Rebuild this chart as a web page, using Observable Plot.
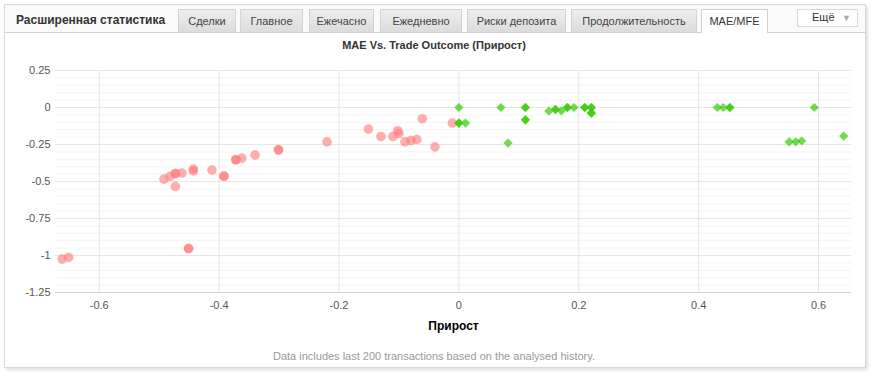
<!DOCTYPE html>
<html>
<head>
<meta charset="utf-8">
<script src="https://cdn.jsdelivr.net/npm/d3@7"></script>
<script src="https://cdn.jsdelivr.net/npm/@observablehq/plot@0.6"></script>
<style>
  body { margin:0; background:#fff; font-family:"Liberation Sans", Arial, sans-serif; }
  #page { position:relative; width:876px; height:376px; overflow:hidden; }
  .box { position:absolute; left:4px; top:4px; width:860px; height:362px; border:1px solid #d9d9d9; background:#fff; box-shadow:2px 2px 3px rgba(0,0,0,0.12); }
  .hdr { position:absolute; left:5px; top:5px; width:860px; height:27px; background:#fafafa; border-bottom:1px solid #d2d2d2; }
  .htitle { position:absolute; left:16px; top:13px; font-weight:bold; font-size:12px; color:#333; }
  .tab { position:absolute; top:9px; height:23px; box-sizing:border-box; border:1px solid #d4d4d4; border-bottom:none; background:linear-gradient(#ededed,#dcdcdc); font-size:11px; color:#444; text-align:center; line-height:22px; }
  .tab.active { background:#fff; border-color:#cfcfcf; height:24px; color:#333; }
  .more { position:absolute; left:797px; top:9px; width:61px; height:18px; box-sizing:border-box; border:1px solid #d8d8d8; background:#fff; font-size:11px; color:#333; line-height:15px; padding-left:14px; }
  .more span { position:absolute; right:6px; top:1px; color:#aaa; font-size:9px; }
  .ctitle { position:absolute; left:0; width:868px; top:39px; text-align:center; font-weight:bold; font-size:11px; color:#333; }
  .foot { position:absolute; left:0; width:868px; top:350px; text-align:center; font-size:11px; color:#999; }
  #chart { position:absolute; left:0; top:60px; }
</style>
</head>
<body>
<div id="page">
  <div class="box"></div>
  <div class="hdr"></div>
  <div class="htitle">Расширенная статистика</div>
  <div id="tabs"></div>
  <div class="more">Ещё<span>▼</span></div>
  <div class="ctitle">MAE Vs. Trade Outcome (Прирост)</div>
  <div id="chart"></div>
  <div class="foot">Data includes last 200 transactions based on the analysed history.</div>
</div>
<script>
// Tabs
const tabLabels = ["Сделки","Главное","Ежечасно","Ежедневно","Риски депозита","Продолжительность","MAE/MFE"];
const tabLefts  = [178, 240, 309, 380, 467, 571, 701];
const tabRights = [236, 303, 374, 462, 566, 697, 768];
const activeTab = "MAE/MFE";

// Data: losing trades (circles) and winning trades (diamonds)
const lossX = [-0.662,-0.651,-0.492,-0.482,-0.473,-0.473,-0.462,-0.473,-0.443,-0.443,-0.412,-0.392,-0.392,-0.372,-0.372,-0.362,-0.340,-0.451,-0.451,-0.301,-0.301,-0.220,-0.151,-0.130,-0.110,-0.102,-0.100,-0.090,-0.080,-0.070,-0.061,-0.040,-0.011];
const lossY = [-1.024,-1.013,-0.484,-0.465,-0.446,-0.446,-0.443,-0.534,-0.416,-0.428,-0.423,-0.464,-0.464,-0.353,-0.353,-0.342,-0.322,-0.953,-0.953,-0.286,-0.286,-0.232,-0.146,-0.196,-0.196,-0.157,-0.176,-0.232,-0.223,-0.216,-0.076,-0.266,-0.105];
const winX = [0.000,0.000,0.000,0.011,0.070,0.111,0.111,0.111,0.111,0.082,0.150,0.161,0.161,0.171,0.181,0.181,0.192,0.210,0.210,0.221,0.221,0.221,0.221,0.431,0.441,0.452,0.452,0.593,0.551,0.562,0.572,0.642];
const winY = [0.000,-0.105,-0.105,-0.105,0.000,0.000,0.000,-0.083,-0.083,-0.240,-0.024,-0.013,-0.013,-0.022,0.000,0.000,0.000,0.000,0.000,0.000,0.000,-0.038,-0.038,0.000,0.000,0.000,0.000,0.000,-0.232,-0.232,-0.225,-0.193];

const xTicks = [-0.6,-0.4,-0.2,0,0.2,0.4,0.6];
const yTicks = [0.25,0,-0.25,-0.5,-0.75,-1,-1.25];
const xLabel = "Прирост";

const tabsEl = document.getElementById("tabs");
tabLabels.forEach((t,i)=>{
  const d = document.createElement("div");
  d.className = "tab" + (t===activeTab ? " active" : "");
  d.style.left = tabLefts[i] + "px";
  d.style.width = (tabRights[i]-tabLefts[i]) + "px";
  d.textContent = t;
  tabsEl.appendChild(d);
});

const loss = lossX.map((x,i)=>({x, y: lossY[i]}));
const win = winX.map((x,i)=>({x, y: winY[i]}));
const minorY = d3.range(-125, 26, 5).map(v=>v/100);

const diamond = {
  draw(ctx, size) {
    const r = Math.sqrt(size/Math.PI) * 1.05;
    ctx.moveTo(0,-r); ctx.lineTo(r,0); ctx.lineTo(0,r); ctx.lineTo(-r,0); ctx.closePath();
  }
};
const fmt = d => String(+d.toFixed(2));

const chart = Plot.plot({
  width: 876,
  height: 290,
  marginLeft: 55,
  marginRight: 25,
  marginTop: 10,
  marginBottom: 58,
  style: { background: "transparent", fontFamily: "'Liberation Sans', Arial, sans-serif", fontSize: "11px", color: "#555" },
  x: { domain: [-0.673, 0.655] },
  y: { domain: [-1.25, 0.25] },
  marks: [
    Plot.ruleY(minorY, { stroke: "#f4f4f4" }),
    Plot.ruleY(yTicks, { stroke: "#e6e6e6" }),
    Plot.ruleX(xTicks, { stroke: "#e6e6e6" }),
    Plot.ruleY([-1.25], { stroke: "#c4cfdc" }),
    Plot.axisX({ ticks: xTicks, tickFormat: fmt, tickSize: 0, tickPadding: 9, label: null, fill: "#555" }),
    Plot.axisY({ ticks: yTicks, tickFormat: fmt, tickSize: 0, tickPadding: 5, label: null, fill: "#555" }),
    Plot.text([xLabel], { frameAnchor: "bottom", dy: 34, fontWeight: "bold", fontSize: 12, fill: "#000", lineAnchor: "middle" }),
    Plot.dot(loss, { x: "x", y: "y", r: 4.8, fill: "#ff7c7c", fillOpacity: 0.62, stroke: "none" }),
    Plot.dot(win, { x: "x", y: "y", r: 4.4, symbol: diamond, fill: "#33cc00", fillOpacity: 0.7, stroke: "none" })
  ]
});
document.getElementById("chart").appendChild(chart);
</script>
</body>
</html>
